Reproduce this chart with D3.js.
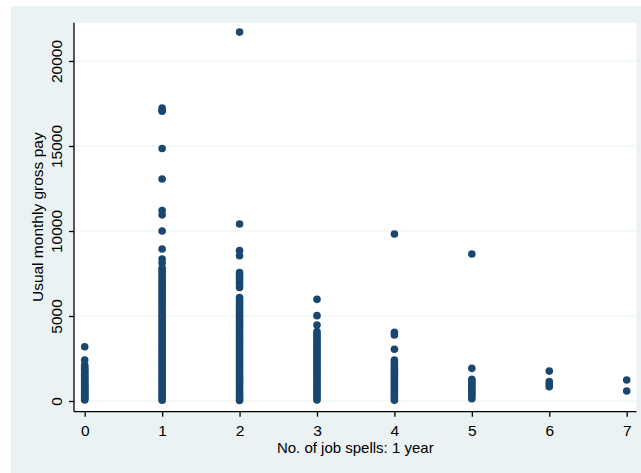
<!DOCTYPE html>
<html>
<head>
<meta charset="utf-8">
<script src="https://cdn.jsdelivr.net/npm/d3@7"></script>
<style>
  body { margin: 0; background: #fff; }
  text { font-family: "Liberation Sans", Arial, sans-serif; fill: #000; }
</style>
</head>
<body>
<div id="chart"></div>
<script>
// job spells (x) and the monthly pay seen at each
var spells = [0, 1, 2, 3, 4, 5, 6, 7];
var yTicks = [0, 5000, 10000, 15000, 20000];

var pay0 = [3190, 2410, 2120, 2010, 1930, 1850, 1760, 1680, 1590, 1520, 1440, 1360, 1290, 1210, 1150,
  1080, 1000, 940, 870, 800, 730, 660, 600, 540, 470, 410, 350, 290, 230, 170, 110, 60];
var pay1 = [17230, 17120, 17050, 14850, 13060, 11200, 10950, 10000, 8940, 8350, 8120, 7820, 7700, 7560,
  7400, 7260, 7110, 6980, 6830, 6700, 6560, 6420, 6300, 6150, 6010, 5890, 5750, 5600, 5480, 5350, 5200,
  5080, 4950, 4820, 4680, 4550, 4420, 4300, 4170, 4040, 3900, 3780, 3650, 3520, 3400, 3280, 3150, 3020,
  2900, 2780, 2650, 2520, 2400, 2280, 2150, 2030, 1900, 1780, 1650, 1530, 1400, 1280, 1150, 1030, 900,
  780, 650, 530, 400, 280, 150, 40];
var pay2 = [21700, 10410, 8850, 8540, 7560, 7420, 7280, 7140, 6990, 6840, 6680, 6090, 5960, 5830, 5700,
  5560, 5420, 5300, 5170, 5040, 4910, 4780, 4650, 4520, 4390, 4260, 4130, 4000, 3870, 3740, 3610, 3480,
  3350, 3220, 3090, 2960, 2830, 2700, 2570, 2440, 2310, 2180, 2050, 1920, 1790, 1660, 1530, 1400, 1270,
  1140, 1010, 880, 750, 620, 490, 360, 230, 100, 30];
var pay3 = [5980, 5020, 4470, 4080, 3950, 3820, 3690, 3560, 3430, 3300, 3170, 3040, 2910, 2780, 2650,
  2520, 2390, 2260, 2130, 2000, 1870, 1740, 1610, 1480, 1350, 1220, 1090, 960, 830, 700, 570, 440, 310,
  180, 60];
var pay4 = [9820, 4040, 3880, 3040, 2410, 2290, 2170, 2050, 1930, 1810, 1690, 1570, 1450, 1330, 1210,
  1090, 970, 850, 730, 610, 490, 370, 250, 130, 40];
var pay5 = [8650, 1920, 1280, 1160, 1040, 930, 820, 710, 600, 490, 380, 270, 130];
var pay6 = [1760, 1140, 990, 840];
var pay7 = [1235, 590];

var payBySpell = [pay0, pay1, pay2, pay3, pay4, pay5, pay6, pay7];

var W = 641, H = 473;
var plotLeft = 74, plotRight = 636.5, plotTop = 22.7, plotBottom = 411.7;

var x = d3.scaleLinear().domain([0, 7]).range([84.7, 626.7]);
var y = d3.scaleLinear().domain([0, 20000]).range([401, 61]);

var svg = d3.select("#chart").append("svg")
    .attr("width", W)
    .attr("height", H);

// outer graph region
svg.append("rect")
    .attr("x", 11).attr("y", 6)
    .attr("width", W - 11).attr("height", H - 6)
    .style("fill", "#eaf2f3");

// plot region
svg.append("rect")
    .attr("x", plotLeft).attr("y", plotTop)
    .attr("width", plotRight - plotLeft).attr("height", plotBottom - plotTop)
    .style("fill", "#fff");

// grid
svg.append("g").selectAll("line").data(yTicks).enter().append("line")
    .attr("x1", plotLeft).attr("x2", plotRight)
    .attr("y1", function (d) { return y(d) })
    .attr("y2", function (d) { return y(d) })
    .style("stroke", "#eaf2f3")
    .style("stroke-width", 1.2);

// points
var points = [];
payBySpell.forEach(function (arr, i) {
  arr.forEach(function (v) { points.push({ s: spells[i], pay: v }) });
});

svg.append("g").selectAll("circle").data(points).enter().append("circle")
    .attr("cx", function (d) { return x(d.s) })
    .attr("cy", function (d) { return y(d.pay) })
    .attr("r", 3.8)
    .style("fill", "#1a476f");

// y axis
var yAxis = svg.append("g")
    .attr("transform", "translate(" + plotLeft + ",0)")
    .call(d3.axisLeft(y).tickValues(yTicks).tickSize(5).tickSizeOuter(0).tickFormat(d3.format("d")));
yAxis.select(".domain").attr("d", "M0," + plotTop + "V" + plotBottom);
yAxis.selectAll("text")
    .attr("transform", "rotate(-90)")
    .attr("x", 0).attr("y", -12).attr("dy", 0)
    .style("text-anchor", "middle")
    .style("font-size", "15.5px");

// x axis
var xAxis = svg.append("g")
    .attr("transform", "translate(0," + plotBottom + ")")
    .call(d3.axisBottom(x).tickValues(spells).tickSize(5).tickSizeOuter(0).tickFormat(d3.format("d")));
xAxis.select(".domain").attr("d", "M" + plotLeft + ",0H" + plotRight);
xAxis.selectAll("text")
    .attr("y", 24).attr("dy", 0)
    .style("font-size", "15.5px");

svg.selectAll(".domain, .tick line").style("stroke", "#000").style("stroke-width", 1.3);

// titles
svg.append("text")
    .attr("x", (plotLeft + plotRight) / 2)
    .attr("y", 452.5)
    .style("text-anchor", "middle")
    .style("font-size", "15px")
    .text("No. of job spells: 1 year");

svg.append("text")
    .attr("transform", "translate(43," + (plotTop + plotBottom) / 2 + ") rotate(-90)")
    .style("text-anchor", "middle")
    .style("font-size", "15.5px")
    .text("Usual monthly gross pay");
</script>
</body>
</html>
